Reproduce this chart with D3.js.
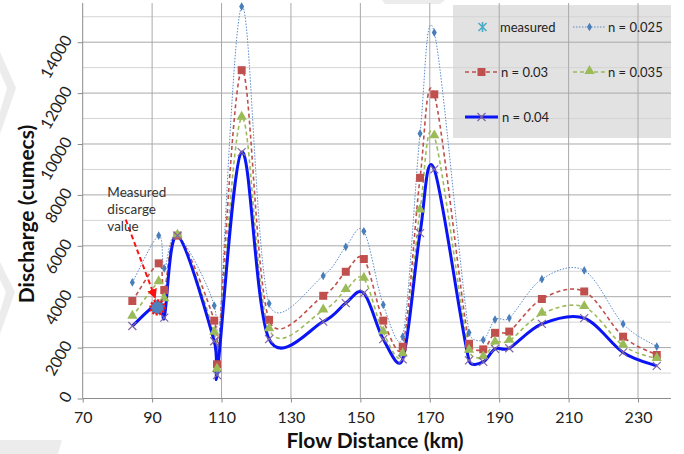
<!DOCTYPE html>
<html>
<head>
<meta charset="utf-8">
<script src="https://cdn.jsdelivr.net/npm/d3@7"></script>
<style>
  body { margin: 0; background: #fff; }
  svg { display: block; }
  text { font-family: Lato, "Open Sans", sans-serif; }
</style>
</head>
<body>
<svg id="chart" width="684" height="454"></svg>
<script>
// flow distance (km) of each cross section
const distances = [84.3, 91.9, 93.5, 97.3, 107.9, 108.7, 115.8, 123.7, 139.3, 145.8, 151.0, 156.6,
  162.2, 167.2, 171.3, 181.3, 185.4, 188.8, 192.9, 202.3, 214.5, 225.7, 235.4];

// discharge (cumecs) for each Manning's n
const n025 = [4560, 6400, 5110, 6420, 3650, 1100, 15400, 3730, 4820, 5960, 6570, 3680,
  2430, 10410, 14380, 2590, 2300, 3100, 3160, 4690, 5030, 2930, 2040];
const n03 = [3830, 5310, 4260, 6400, 3060, 1345, 12900, 3090, 4035, 4980, 5480, 3060,
  2036, 8670, 11950, 2150, 1930, 2580, 2630, 3910, 4205, 2430, 1710];
const n035 = [3210, 4570, 3900, 6400, 2580, 1130, 11030, 2720, 3460, 4260, 4705, 2600,
  1740, 7390, 10300, 1880, 1620, 2195, 2265, 3330, 3590, 2080, 1555];
const n04 = [2850, 3750, 3180, 6400, 2250, 920, 9680, 2330, 3020, 3750, 4140, 2330,
  1540, 6500, 9000, 1500, 1440, 1950, 1976, 2930, 3160, 1810, 1280];

const measured = [{ x: 91.55, y: 3580 }];

const xTicks = [70, 90, 110, 130, 150, 170, 190, 210, 230];
const yTicks = [0, 2000, 4000, 6000, 8000, 10000, 12000, 14000];
const yMinor = d3.range(1000, 16000, 2000);

const svg = d3.select('#chart');
const W = 684, H = 454;
const pLeft = 82.7, pRight = 671, pTop = 3, pBottom = 398.5;

const x = d3.scaleLinear().domain([70, 239.5]).range([pLeft, pRight]);
const y = d3.scaleLinear().domain([0, 15540]).range([pBottom, pTop]);

svg.append('rect').attr('width', W).attr('height', H).attr('fill', '#fff');

// faint watermark pieces from the scanned page
const wm = svg.append('g').attr('fill', '#ececec');
wm.append('path').attr('d', 'M0,52 L16,88 L0,134 L0,112 L7,88 L0,72 Z');
wm.append('path').attr('d', 'M0,262 L15,292 L0,334 L0,312 L6,292 L0,280 Z');
wm.append('path').attr('d', 'M0,440 L62,440 L58,454 L0,454 Z');
wm.append('path').attr('d', 'M382,0 L445,0 L440,4 L385,4 Z');

// legend background sits under the gridlines
const legX = 453, legY = 5, legW = pRight - legX, legH = 133;
svg.append('rect').attr('x', legX).attr('y', legY).attr('width', legW).attr('height', legH)
  .attr('fill', '#e2e2e2');

// gridlines
const grid = svg.append('g');
grid.selectAll('.minor').data(yMinor).enter().append('line')
  .attr('x1', pLeft).attr('x2', pRight)
  .attr('y1', d => y(d)).attr('y2', d => y(d))
  .attr('stroke', '#d4d4d4').attr('stroke-width', 1);
grid.selectAll('.major').data(yTicks.filter(d => d > 0)).enter().append('line')
  .attr('x1', pLeft).attr('x2', pRight)
  .attr('y1', d => y(d)).attr('y2', d => y(d))
  .attr('stroke', '#a9a9a9').attr('stroke-width', 1);
grid.selectAll('.vert').data(xTicks.filter(d => d > 70)).enter().append('line')
  .attr('x1', d => x(d)).attr('x2', d => x(d))
  .attr('y1', pTop).attr('y2', pBottom)
  .attr('stroke', '#a9a9a9').attr('stroke-width', 1);

// axes
const xAxis = d3.axisBottom(x).tickValues(xTicks).tickSize(4).tickFormat(d3.format('d'));
const gx = svg.append('g').attr('transform', `translate(0,${pBottom})`).call(xAxis);
gx.select('.domain').attr('stroke', '#8c8c8c').attr('d', `M${pLeft},0H${pRight}`);
gx.selectAll('.tick line').attr('stroke', '#8c8c8c');
gx.selectAll('.tick text').attr('font-size', 16).attr('fill', '#222').attr('dy', '1.1em');

const yAxis = d3.axisLeft(y).tickValues(yTicks).tickSize(5).tickFormat(d3.format('d'));
const gy = svg.append('g').attr('transform', `translate(${pLeft},0)`).call(yAxis);
gy.select('.domain').attr('stroke', '#8c8c8c').attr('d', `M0,${pTop}V${pBottom}`);
gy.selectAll('.tick line').attr('stroke', '#8c8c8c');
gy.selectAll('.tick text').attr('font-size', 16).attr('fill', '#222')
  .attr('x', -15).attr('y', -6).attr('dy', '0.35em')
  .attr('text-anchor', 'end')
  .attr('transform', 'rotate(-60,-15,-6)');

svg.append('text').attr('x', 375).attr('y', 448)
  .attr('text-anchor', 'middle').attr('font-size', 21).attr('font-weight', 'bold')
  .attr('fill', '#111').text('Flow Distance (km)');
svg.append('text').attr('transform', 'translate(34,214) rotate(-90)')
  .attr('text-anchor', 'middle').attr('font-size', 21).attr('font-weight', 'bold')
  .attr('fill', '#111').text('Discharge (cumecs)');

// series
const series = [
  { name: 'n = 0.025', values: n025, color: '#5b8ccc', width: 1, dash: '1.5,1.5', marker: 'diamond', mcolor: '#4a7ebb' },
  { name: 'n = 0.03', values: n03, color: '#c0504d', width: 1.6, dash: '4,3', marker: 'square', mcolor: '#c0504d' },
  { name: 'n = 0.035', values: n035, color: '#9bbb59', width: 1.6, dash: '4,3', marker: 'triangle', mcolor: '#9bbb59' },
  { name: 'n = 0.04', values: n04, color: '#0a14f5', width: 3, dash: null, marker: 'cross', mcolor: '#8064a2' }
];

// spreadsheet-style smoothing: Catmull-Rom handles, capped at half the segment length
function smoothPath(pts) {
  let d = `M${pts[0][0]},${pts[0][1]}`;
  const handle = (a, b, len) => {
    let hx = (b[0] - a[0]) / 6, hy = (b[1] - a[1]) / 6;
    const l = Math.hypot(hx, hy);
    if (l > len / 2 && l > 0) { hx *= len / 2 / l; hy *= len / 2 / l; }
    return [hx, hy];
  };
  for (let i = 0; i < pts.length - 1; i++) {
    const p0 = pts[i - 1] || pts[i], p1 = pts[i], p2 = pts[i + 1], p3 = pts[i + 2] || pts[i + 1];
    const seg = Math.hypot(p2[0] - p1[0], p2[1] - p1[1]);
    const h1 = handle(p0, p2, seg), h2 = handle(p1, p3, seg);
    d += `C${p1[0] + h1[0]},${p1[1] + h1[1]} ${p2[0] - h2[0]},${p2[1] - h2[1]} ${p2[0]},${p2[1]}`;
  }
  return d;
}

const plot = svg.append('g');
series.forEach(s => {
  const pts = distances.map((d, i) => [x(d), y(s.values[i])]);
  plot.append('path').attr('d', smoothPath(pts))
    .attr('fill', 'none').attr('stroke', s.color).attr('stroke-width', s.width)
    .attr('stroke-dasharray', s.dash).attr('stroke-linejoin', 'round');
});

function drawMarker(g, type, color) {
  if (type === 'diamond') {
    g.append('path').attr('d', d3.symbol(d3.symbolDiamond, 22)()).attr('fill', color);
  } else if (type === 'square') {
    g.append('path').attr('d', d3.symbol(d3.symbolSquare, 64)()).attr('fill', color);
  } else if (type === 'triangle') {
    g.append('path').attr('d', d3.symbol(d3.symbolTriangle, 46)()).attr('fill', color)
      .attr('transform', 'translate(0,-1)');
  } else if (type === 'cross') {
    g.append('path').attr('d', 'M-4,-4L4,4M-4,4L4,-4').attr('stroke', color).attr('stroke-width', 1.2);
  } else if (type === 'star') {
    g.append('path').attr('d', 'M-4,-4L4,4M-4,4L4,-4M0,-5L0,5').attr('stroke', color).attr('stroke-width', 1.6);
  }
}

series.forEach(s => {
  distances.forEach((d, i) => {
    const g = plot.append('g').attr('transform', `translate(${x(d)},${y(s.values[i])})`);
    drawMarker(g, s.marker, s.mcolor);
  });
});

// measured value and annotation
measured.forEach(m => {
  const g = plot.append('g').attr('transform', `translate(${x(m.x)},${y(m.y)})`);
  drawMarker(g, 'star', '#4bacc6');
});

svg.append('defs').append('marker').attr('id', 'arr')
  .attr('viewBox', '0 0 10 10').attr('refX', 8).attr('refY', 5)
  .attr('markerWidth', 5).attr('markerHeight', 5).attr('orient', 'auto')
  .append('path').attr('d', 'M0,0L10,5L0,10Z').attr('fill', '#ff1010');

const note = { x: 77.1, lines: ['Measured', 'discarge', 'value'], y0: 7900 };
const arrowFrom = [82.4, 7030], arrowTo = [90.8, 3980];
svg.append('line')
  .attr('x1', x(arrowFrom[0])).attr('y1', y(arrowFrom[1]))
  .attr('x2', x(arrowTo[0])).attr('y2', y(arrowTo[1]))
  .attr('stroke', '#ff1010').attr('stroke-width', 2).attr('stroke-dasharray', '5,3')
  .attr('marker-end', 'url(#arr)');

measured.forEach(m => {
  svg.append('circle').attr('cx', x(m.x)).attr('cy', y(m.y)).attr('r', 7)
    .attr('fill', '#4f81bd').attr('stroke', '#ff1010').attr('stroke-width', 2.5)
    .attr('stroke-dasharray', '2,1.6');
});

note.lines.forEach((t, i) => {
  svg.append('text').attr('x', x(note.x)).attr('y', y(note.y0) + i * 17)
    .attr('font-size', 13.5).attr('fill', '#333').text(t);
});

// legend contents
const legendItems = [
  { label: 'measured', marker: 'star', mcolor: '#4bacc6', lx: 466, ly: 27, textX: 500 },
  { label: 'n = 0.025', s: series[0], lx: 573, ly: 27, textX: 608 },
  { label: 'n = 0.03', s: series[1], lx: 465, ly: 72, textX: 501 },
  { label: 'n = 0.035', s: series[2], lx: 573, ly: 72, textX: 608 },
  { label: 'n = 0.04', s: series[3], lx: 465, ly: 117, textX: 502 }
];
const leg = svg.append('g');
legendItems.forEach(it => {
  const g = leg.append('g');
  if (it.s) {
    g.append('line').attr('x1', it.lx).attr('x2', it.lx + 33).attr('y1', it.ly).attr('y2', it.ly)
      .attr('stroke', it.s.color).attr('stroke-width', it.s.width).attr('stroke-dasharray', it.s.dash);
    drawMarker(g.append('g').attr('transform', `translate(${it.lx + 16.5},${it.ly})`), it.s.marker, it.s.mcolor);
  } else {
    drawMarker(g.append('g').attr('transform', `translate(${it.lx + 16.5},${it.ly})`), it.marker, it.mcolor);
  }
  g.append('text').attr('x', it.textX).attr('y', it.ly).attr('dy', '0.35em')
    .attr('font-size', 13).attr('fill', '#222').text(it.label);
});
</script>
</body>
</html>
